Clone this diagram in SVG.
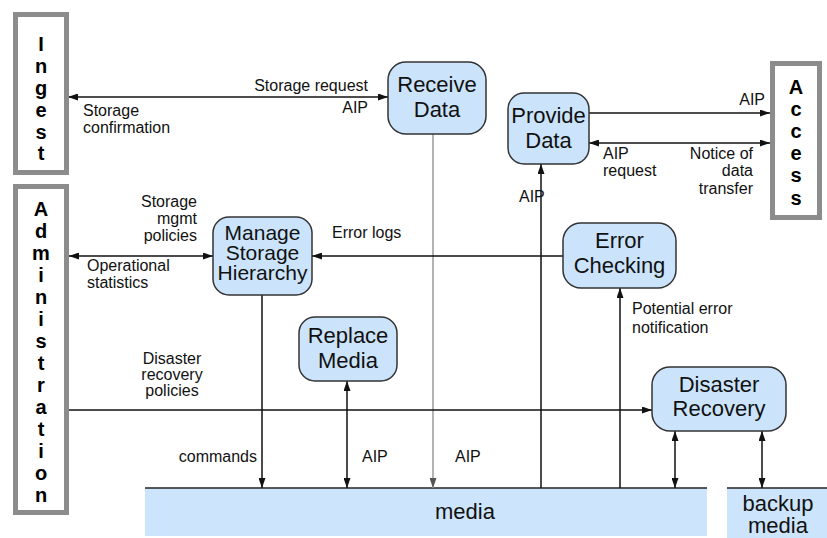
<svg xmlns="http://www.w3.org/2000/svg" width="827" height="538" viewBox="0 0 827 538">
<style>
.ext{fill:#ffffff;stroke:#8c8c8c;stroke-width:5}
.ext-t{font-family:"Liberation Sans",Arial,sans-serif;font-size:20px;font-weight:bold;fill:#000;text-anchor:middle}
.node{fill:#cbe4fc;stroke:#333;stroke-width:1.5}
.nt{font-family:"Liberation Sans",Arial,sans-serif;font-size:22px;fill:#111;text-anchor:middle}
.nt2{font-family:"Liberation Sans",Arial,sans-serif;font-size:21px;fill:#111;text-anchor:middle}
.lbl{font-family:"Liberation Sans",Arial,sans-serif;font-size:16px;fill:#111}
.end{text-anchor:end}
.mid{text-anchor:middle}
.bar{fill:#cde5fc}
.barline{stroke:#222;stroke-width:1.5}
.c{fill:none;stroke:#111;stroke-width:1.5}
.cg{fill:none;stroke:#9a9a9a;stroke-width:1.5}
</style>
<defs>
<marker id="ah" viewBox="0 0 10 7" refX="10" refY="3.5" markerWidth="10" markerHeight="7" markerUnits="userSpaceOnUse" orient="auto-start-reverse">
<path d="M0,0 L10,3.5 L0,7 z" fill="#111"/>
</marker>
<marker id="ahg" viewBox="0 0 10 7" refX="10" refY="3.5" markerWidth="10" markerHeight="7" markerUnits="userSpaceOnUse" orient="auto-start-reverse">
<path d="M0,0 L10,3.5 L0,7 z" fill="#555"/>
</marker>
</defs>
<rect width="827" height="538" fill="#ffffff"/>

<g id="media">
<rect class="bar" x="145" y="488" width="562" height="48"/>
<line class="barline" x1="145" y1="488" x2="707" y2="488"/>
<text class="nt" x="465" y="519">media</text>
</g>
<g id="backup-media">
<rect class="bar" x="727" y="488" width="100" height="50"/>
<line class="barline" x1="727" y1="488" x2="827" y2="488"/>
<text class="nt" x="778" y="511">backup</text>
<text class="nt" x="778" y="533">media</text>
</g>

<g id="connectors">
<path class="c" d="M68,97 H388" marker-start="url(#ah)" marker-end="url(#ah)"/>
<path class="cg" d="M433,134 V488" marker-end="url(#ahg)"/>
<path class="c" d="M589,113 H770" marker-end="url(#ah)"/>
<path class="c" d="M589,143 H770" marker-start="url(#ah)" marker-end="url(#ah)"/>
<path class="c" d="M541,488 V164" marker-end="url(#ah)"/>
<path class="c" d="M563,256 H312" marker-end="url(#ah)"/>
<path class="c" d="M69,256 H213" marker-start="url(#ah)" marker-end="url(#ah)"/>
<path class="c" d="M262,295 V488" marker-end="url(#ah)"/>
<path class="c" d="M347,381 V488" marker-start="url(#ah)" marker-end="url(#ah)"/>
<path class="c" d="M69,410 H652" marker-end="url(#ah)"/>
<path class="c" d="M620,488 V288" marker-end="url(#ah)"/>
<path class="c" d="M675,431 V488" marker-start="url(#ah)" marker-end="url(#ah)"/>
<path class="c" d="M762,431 V488" marker-start="url(#ah)" marker-end="url(#ah)"/>

<text class="lbl end" x="368" y="91">Storage request</text>
<text class="lbl end" x="368" y="113">AIP</text>
<text class="lbl" x="83" y="116">Storage</text>
<text class="lbl" x="83" y="133">confirmation</text>
<text class="lbl end" x="765" y="105">AIP</text>
<text class="lbl" x="603" y="159">AIP</text>
<text class="lbl" x="603" y="176">request</text>
<text class="lbl end" x="753" y="159">Notice of</text>
<text class="lbl end" x="753" y="176">data</text>
<text class="lbl end" x="753" y="194">transfer</text>
<text class="lbl" x="519" y="202">AIP</text>
<text class="lbl" x="332" y="238">Error logs</text>
<text class="lbl end" x="197" y="207">Storage</text>
<text class="lbl end" x="197" y="224">mgmt</text>
<text class="lbl end" x="197" y="241">policies</text>
<text class="lbl" x="87" y="271">Operational</text>
<text class="lbl" x="87" y="288">statistics</text>
<text class="lbl" x="632" y="314">Potential error</text>
<text class="lbl" x="632" y="333">notification</text>
<text class="lbl mid" x="172" y="364">Disaster</text>
<text class="lbl mid" x="172" y="380">recovery</text>
<text class="lbl mid" x="172" y="396">policies</text>
<text class="lbl end" x="257" y="462">commands</text>
<text class="lbl" x="362" y="462">AIP</text>
<text class="lbl" x="455" y="462">AIP</text>
</g>

<g id="ingest">
<rect class="ext" x="15.5" y="14.5" width="51" height="158"/>
<text class="ext-t" x="41" y="51">I</text>
<text class="ext-t" x="41" y="73">n</text>
<text class="ext-t" x="41" y="95">g</text>
<text class="ext-t" x="41" y="117">e</text>
<text class="ext-t" x="41" y="139">s</text>
<text class="ext-t" x="41" y="160">t</text>
</g>

<g id="administration">
<rect class="ext" x="15.5" y="186.5" width="51" height="326"/>
<text class="ext-t" x="41" y="216">A</text>
<text class="ext-t" x="41" y="238">d</text>
<text class="ext-t" x="41" y="260">m</text>
<text class="ext-t" x="41" y="282">i</text>
<text class="ext-t" x="41" y="304">n</text>
<text class="ext-t" x="41" y="326">i</text>
<text class="ext-t" x="41" y="348">s</text>
<text class="ext-t" x="41" y="370">t</text>
<text class="ext-t" x="41" y="392">r</text>
<text class="ext-t" x="41" y="414">a</text>
<text class="ext-t" x="41" y="436">t</text>
<text class="ext-t" x="41" y="458">i</text>
<text class="ext-t" x="41" y="480">o</text>
<text class="ext-t" x="41" y="502">n</text>
</g>

<g id="access">
<rect class="ext" x="772.5" y="63.5" width="47" height="154"/>
<text class="ext-t" x="796" y="94">A</text>
<text class="ext-t" x="796" y="116">c</text>
<text class="ext-t" x="796" y="138">c</text>
<text class="ext-t" x="796" y="160">e</text>
<text class="ext-t" x="796" y="182">s</text>
<text class="ext-t" x="796" y="205">s</text>
</g>

<g id="receive-data">
<rect class="node" x="388" y="62" width="98" height="72" rx="18"/>
<text class="nt" x="437" y="92">Receive</text>
<text class="nt" x="437" y="117">Data</text>
</g>

<g id="provide-data">
<rect class="node" x="508" y="93" width="81" height="71" rx="16"/>
<text class="nt" x="548.5" y="123">Provide</text>
<text class="nt" x="548.5" y="148">Data</text>
</g>

<g id="manage-storage-hierarchy">
<rect class="node" x="213" y="217" width="99" height="78" rx="16"/>
<text class="nt2" x="262.5" y="240">Manage</text>
<text class="nt2" x="262.5" y="260">Storage</text>
<text class="nt2" x="262.5" y="280">Hierarchy</text>
</g>

<g id="error-checking">
<rect class="node" x="563" y="223" width="113" height="65" rx="18"/>
<text class="nt" x="619.5" y="248">Error</text>
<text class="nt" x="619.5" y="273">Checking</text>
</g>

<g id="replace-media">
<rect class="node" x="299" y="317" width="98" height="64" rx="16"/>
<text class="nt" x="348" y="343">Replace</text>
<text class="nt" x="348" y="368">Media</text>
</g>

<g id="disaster-recovery">
<rect class="node" x="652" y="367" width="134" height="64" rx="18"/>
<text class="nt" x="719" y="392">Disaster</text>
<text class="nt" x="719" y="416">Recovery</text>
</g>
</svg>
